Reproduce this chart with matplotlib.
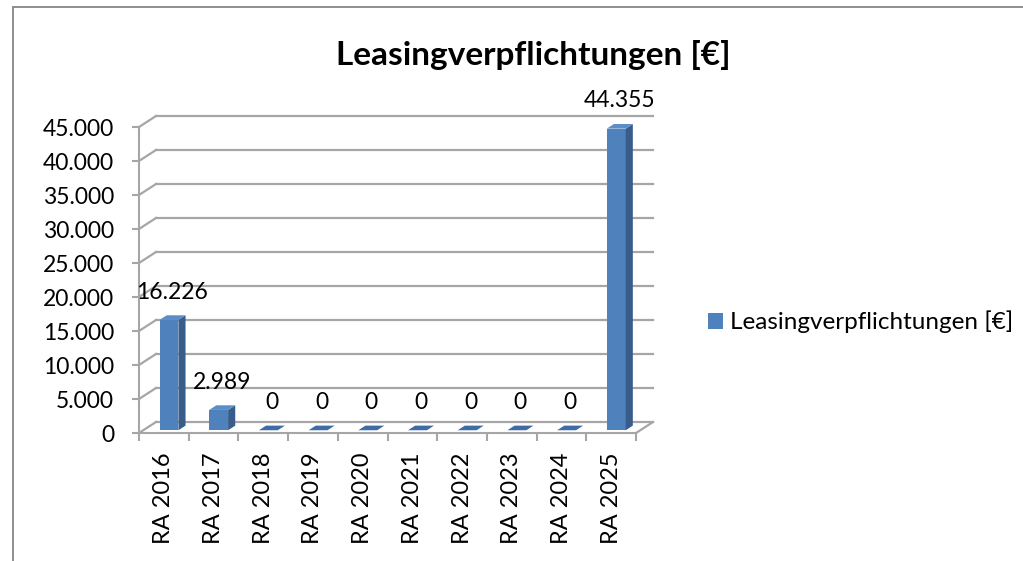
import matplotlib
matplotlib.use('Agg')
import matplotlib.pyplot as plt
from matplotlib.patches import Polygon, Patch, Rectangle

categories = ['RA 2016', 'RA 2017', 'RA 2018', 'RA 2019', 'RA 2020',
              'RA 2021', 'RA 2022', 'RA 2023', 'RA 2024', 'RA 2025']
values = [16226, 2989, 0, 0, 0, 0, 0, 0, 0, 44355]
y_ticks = [0, 5000, 10000, 15000, 20000, 25000, 30000, 35000, 40000, 45000]
series_name = 'Leasingverpflichtungen [€]'
title = 'Leasingverpflichtungen [€]'


def de(v):
    return f"{v:,.0f}".replace(',', '.')


plt.rcParams['font.family'] = ['Lato', 'DejaVu Sans']
W, H = 1023, 561
fig = plt.figure(figsize=(W / 100, H / 100), dpi=100)
L, R, B, T = 139, 636, 433, 127
ax = fig.add_axes([L / W, 1 - B / H, (R - L) / W, (B - T) / H])
n = len(categories)
ax.set_xlim(0, n)
ax.set_ylim(0, 45000)
ax.patch.set_visible(False)
grid_c = '#a6a6a6'
for s in ['top', 'right']:
    ax.spines[s].set_visible(False)
for s in ['left', 'bottom']:
    ax.spines[s].set_color(grid_c)
    ax.spines[s].set_linewidth(1.5)


def px2data(dxp, dyp):
    x0, y0 = ax.transData.transform((0, 0))
    return tuple(ax.transData.inverted().transform((x0 + dxp, y0 + dyp)))


ddx, ddy = px2data(17, 11)

# back wall grid + diagonals
for v in y_ticks:
    ax.plot([ddx, n + ddx], [v + ddy, v + ddy], color=grid_c, lw=1.6, clip_on=False, zorder=1)
    ax.plot([0, ddx], [v, v + ddy], color=grid_c, lw=1.6, clip_on=False, zorder=1)
ax.plot([n, n + ddx], [0, ddy], color=grid_c, lw=1.6, clip_on=False, zorder=1)

# bars
front_c, side_c, top_c, zero_c = '#4f81bd', '#385d8a', '#5b8dc9', '#3f6ca6'
w = 0.38
fx, fy = 0.3 * ddx, 0.25 * ddy
sx, sy = 0.42 * ddx, 0.42 * ddy
for i, v in enumerate(values):
    c = i + 0.5 + fx
    x0, x1 = c - w / 2, c + w / 2
    y0, y1 = fy, v + fy
    if v > 0:
        ax.bar(c, v, width=w, bottom=fy, color=front_c, zorder=3, clip_on=False)
        ax.add_patch(Polygon([(x1, y0), (x1, y1), (x1 + sx, y1 + sy), (x1 + sx, y0 + sy)],
                             closed=True, facecolor=side_c, edgecolor='none', zorder=3, clip_on=False))
        ax.add_patch(Polygon([(x0, y1), (x1, y1), (x1 + sx, y1 + sy), (x0 + sx, y1 + sy)],
                             closed=True, facecolor=top_c, edgecolor='none', zorder=3, clip_on=False))
    else:
        ax.add_patch(Polygon([(x0, y1), (x1, y1), (x1 + sx, y1 + sy), (x0 + sx, y1 + sy)],
                             closed=True, facecolor=zero_c, edgecolor='none', zorder=3, clip_on=False))
    ax.annotate(de(v), xy=(c + sx / 2, y1), xytext=(0, 20), textcoords='offset points',
                ha='center', va='center', fontsize=16.5, color='black', zorder=5)

# axes ticks
ax.set_yticks(y_ticks)
ax.set_yticklabels([de(v) for v in y_ticks], fontsize=16.5)
ax.tick_params(axis='y', length=5, width=1.5, color=grid_c, pad=13)
ax.set_xticks([i + 0.5 for i in range(n)])
ax.set_xticklabels(categories, rotation=90, fontsize=17)
ax.set_xticks(list(range(n + 1)), minor=True)
ax.tick_params(axis='x', which='major', length=0, pad=14)
ax.tick_params(axis='x', which='minor', length=6, width=1.5, color=grid_c)

# title
fig.text(533 / W, 1 - 55 / H, title, ha='center', va='center', fontsize=24, fontweight='bold')

# legend
fig.legend(handles=[Patch(facecolor=front_c, edgecolor='none')], labels=[series_name],
           loc='center left', bbox_to_anchor=(708 / W, 1 - 322 / H), frameon=False,
           fontsize=17.5, handlelength=0.62, handleheight=0.62, handletextpad=0.3,
           borderpad=0, borderaxespad=0)

# chart border
fig.add_artist(Rectangle((13 / W, -0.05), (1040 - 13) / W, 1.05 - 7 / H,
                         transform=fig.transFigure, fill=False, edgecolor='#868686', lw=1.3))

fig.savefig('out.png', dpi=100)
